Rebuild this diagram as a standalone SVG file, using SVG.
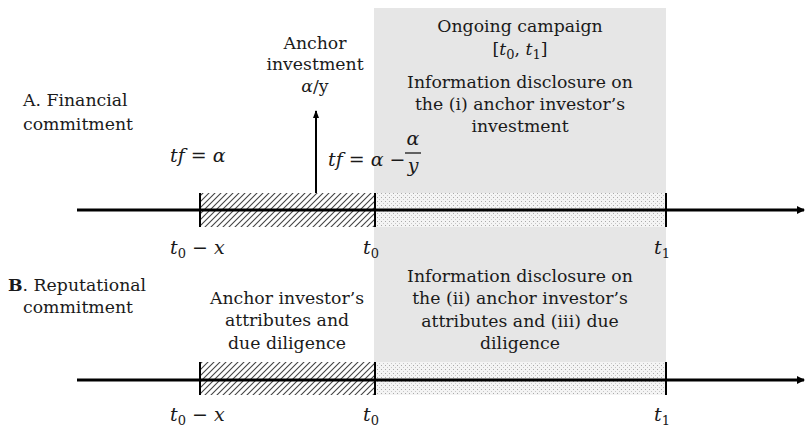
<svg xmlns="http://www.w3.org/2000/svg" width="806" height="428" viewBox="0 0 806 428">
<defs>
<pattern id="hatch" patternUnits="userSpaceOnUse" width="6" height="6">
<rect width="6" height="6" fill="#ffffff"/>
<path d="M-1,1 L1,-1 M0,6 L6,0 M5,7 L7,5" stroke="#444" stroke-width="1.1"/>
</pattern>
<pattern id="dots" patternUnits="userSpaceOnUse" width="4" height="4">
<rect width="4" height="4" fill="#f4f4f4"/>
<rect x="1" y="1" width="1" height="1" fill="#aaa"/>
<rect x="3" y="3" width="1" height="1" fill="#c8c8c8"/>
</pattern>
<marker id="arr" markerWidth="8" markerHeight="8" refX="7" refY="4" orient="auto" markerUnits="userSpaceOnUse">
<path d="M0,0 L8,4 L0,8 Z" fill="#000"/>
</marker>
<marker id="arrUp" markerWidth="8" markerHeight="8" refX="7" refY="4" orient="auto" markerUnits="userSpaceOnUse">
<path d="M0,1 L8,4 L0,7 Z" fill="#000"/>
</marker>
</defs>
<style>
text { font-family: "DejaVu Serif", "Liberation Serif", serif; font-size: 17.3px; fill: #1a1a1a; }
.c { text-anchor: middle; }
.m { font-family: "DejaVu Serif", "Liberation Serif", serif; font-style: italic; font-size: 19px; }
.sub { font-size: 13px; font-style: normal; }
.tick { stroke: #000; stroke-width: 2; }
.axis { stroke: #000; stroke-width: 3; }
</style>

<rect id="campaign-panel" x="374" y="8" width="292" height="354" fill="#e6e6e6"/>

<g id="timelineA">
<rect x="200" y="193" width="175" height="34" fill="url(#hatch)"/>
<rect x="375" y="193" width="291" height="34" fill="url(#dots)"/>
</g>
<g id="timelineB">
<rect x="200" y="362" width="175" height="33" fill="url(#hatch)"/>
<rect x="375" y="362" width="291" height="33" fill="url(#dots)"/>
</g>

<g id="connectors">
<line class="axis" x1="77" y1="210" x2="804" y2="210" marker-end="url(#arr)"/>
<line class="axis" x1="77" y1="380" x2="804" y2="380" marker-end="url(#arr)"/>
<line class="tick" x1="200" y1="193" x2="200" y2="227"/>
<line class="tick" x1="375" y1="193" x2="375" y2="227"/>
<line class="tick" x1="666" y1="193" x2="666" y2="227"/>
<line class="tick" x1="200" y1="362" x2="200" y2="395"/>
<line class="tick" x1="375" y1="362" x2="375" y2="395"/>
<line class="tick" x1="666" y1="362" x2="666" y2="395"/>
<line x1="316" y1="193" x2="316" y2="111" stroke="#000" stroke-width="2" marker-end="url(#arrUp)"/>
</g>

<g id="label-A">
<text x="23" y="106">A. Financial</text>
<text x="23" y="130">commitment</text>
</g>
<g id="label-B">
<text x="8" y="291"><tspan font-weight="bold">B</tspan>. Reputational</text>
<text x="23" y="313">commitment</text>
</g>

<g id="anchor-investment">
<text class="c" x="315" y="49">Anchor</text>
<text class="c" x="315" y="70">investment</text>
<text class="c" x="315" y="92"><tspan font-style="italic">α</tspan>/y</text>
</g>

<g id="campaign-text">
<text class="c" x="520" y="32">Ongoing campaign</text>
<text class="c" x="520" y="55">[<tspan font-style="italic">t</tspan><tspan class="sub" dy="4">0</tspan><tspan dy="-4">, </tspan><tspan font-style="italic">t</tspan><tspan class="sub" dy="4">1</tspan><tspan dy="-4">]</tspan></text>
<text class="c" x="520" y="88">Information disclosure on</text>
<text class="c" x="520" y="110">the (i) anchor investor’s</text>
<text class="c" x="520" y="132">investment</text>
</g>

<g id="tf-alpha">
<text class="m" x="170" y="162">tf = α</text>
</g>
<g id="tf-alpha-y">
<text class="m" x="328" y="166">tf = α −</text>
<text class="m c" x="413" y="145">α</text>
<line x1="405" y1="153" x2="421" y2="153" stroke="#1a1a1a" stroke-width="1.3"/>
<text class="m c" x="413" y="172">y</text>
</g>

<g id="ticklabels-A">
<text class="m" x="170" y="254">t<tspan class="sub" dy="4">0</tspan><tspan dy="-4"> − x</tspan></text>
<text class="m" x="363" y="254">t<tspan class="sub" dy="4">0</tspan></text>
<text class="m" x="654" y="254">t<tspan class="sub" dy="4">1</tspan></text>
</g>

<g id="anchor-attributes">
<text class="c" x="287" y="304">Anchor investor’s</text>
<text class="c" x="287" y="326">attributes and</text>
<text class="c" x="287" y="349">due diligence</text>
</g>

<g id="disclosure-B">
<text class="c" x="520" y="282">Information disclosure on</text>
<text class="c" x="520" y="304">the (ii) anchor investor’s</text>
<text class="c" x="520" y="327">attributes and (iii) due</text>
<text class="c" x="520" y="349">diligence</text>
</g>

<g id="ticklabels-B">
<text class="m" x="170" y="421">t<tspan class="sub" dy="4">0</tspan><tspan dy="-4"> − x</tspan></text>
<text class="m" x="363" y="421">t<tspan class="sub" dy="4">0</tspan></text>
<text class="m" x="654" y="421">t<tspan class="sub" dy="4">1</tspan></text>
</g>
</svg>
